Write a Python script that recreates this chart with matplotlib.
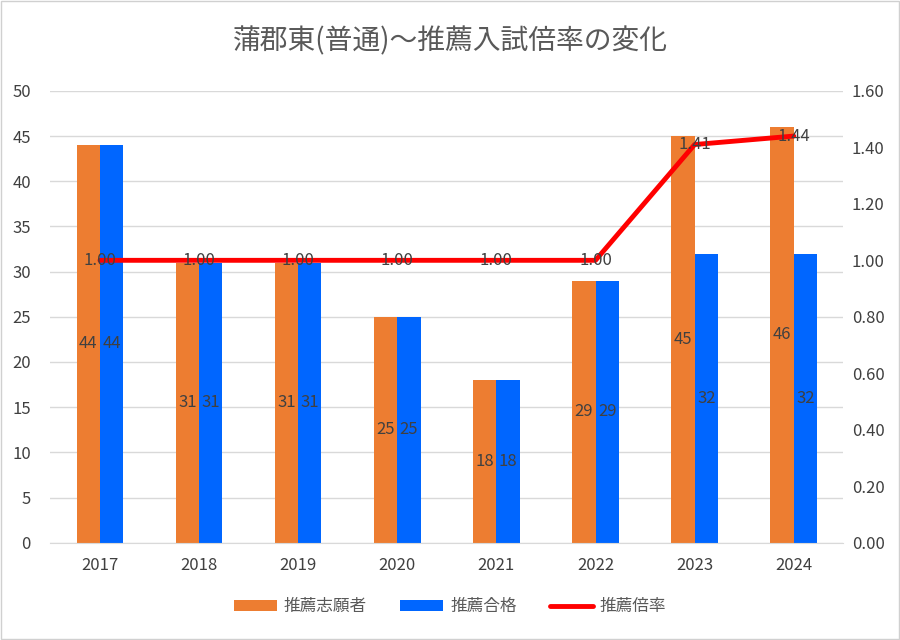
import numpy as np
import matplotlib
matplotlib.use("Agg")
import matplotlib.pyplot as plt
from matplotlib.patches import Rectangle

plt.rcParams['font.family'] = ['Noto Sans CJK JP', 'DejaVu Sans']

# データ
years = ['2017', '2018', '2019', '2020', '2021', '2022', '2023', '2024']
applicants = [44, 31, 31, 25, 18, 29, 45, 46]   # 推薦志願者
passed = [44, 31, 31, 25, 18, 29, 32, 32]       # 推薦合格
ratio = [1.00, 1.00, 1.00, 1.00, 1.00, 1.00, 1.41, 1.44]  # 推薦倍率

orange = '#ED7D31'
blue = '#0066FF'
red = '#FF0000'
txt = '#404040'
grid = '#D9D9D9'

fig = plt.figure(figsize=(9, 6.4), dpi=100)
fig.patches.append(Rectangle((0.001, 0.001), 0.998, 0.998, transform=fig.transFigure,
                             fill=False, edgecolor='#D0D0D0', linewidth=1))

ax = fig.add_axes([0.056, 0.152, 0.881, 0.706])
ax2 = ax.twinx()

x = np.arange(len(years))
w = 0.235
b1 = ax.bar(x - w / 2, applicants, w, color=orange, label='推薦志願者', zorder=2)
b2 = ax.bar(x + w / 2, passed, w, color=blue, label='推薦合格', zorder=2)

# 棒の中央にラベル
for rect, v in zip(list(b1) + list(b2), applicants + passed):
    ax.text(rect.get_x() + rect.get_width() / 2, v / 2, str(v), ha='center', va='center',
            fontsize=12, color=txt, zorder=5)

ln, = ax2.plot(x, ratio, color=red, linewidth=3.5, label='推薦倍率', zorder=3,
               solid_capstyle='round')
for xi, r in zip(x, ratio):
    ax2.text(xi, r, f'{r:.2f}', ha='center', va='center', fontsize=12, color=txt, zorder=6)

ax.set_xlim(-0.5, len(years) - 0.5)
ax.set_ylim(0, 50)
ax.set_yticks(np.arange(0, 51, 5))
ax2.set_ylim(0, 1.6)
ax2.set_yticks(np.arange(0, 1.61, 0.2))
ax2.set_yticklabels([f'{v:.2f}' for v in np.arange(0, 1.61, 0.2)])
ax.set_xticks(x)
ax.set_xticklabels(years)

ax.yaxis.grid(True, color=grid, linewidth=1, zorder=0)
ax.set_axisbelow(True)
ax2.set_zorder(ax.get_zorder() + 1)
ax2.patch.set_visible(False)

for a in (ax, ax2):
    for s in a.spines.values():
        s.set_visible(False)
    a.tick_params(length=0, labelsize=12, labelcolor=txt)
ax.spines['bottom'].set_visible(True)
ax.spines['bottom'].set_color(grid)
ax.tick_params(axis='x', pad=10)
ax.tick_params(axis='y', pad=14)
ax2.tick_params(axis='y', pad=6)

fig.text(0.5, 0.935, '蒲郡東(普通)～推薦入試倍率の変化', ha='center', va='center',
         fontsize=20, color='#595959')

fig.legend(handles=[b1, b2, ln], loc='center', bbox_to_anchor=(0.5, 0.052), ncol=3,
           frameon=False, fontsize=12, labelcolor='#595959', handlelength=2.6,
           handleheight=0.6, columnspacing=2.0, handletextpad=0.4)

fig.savefig('out.png', dpi=100, facecolor='white')
